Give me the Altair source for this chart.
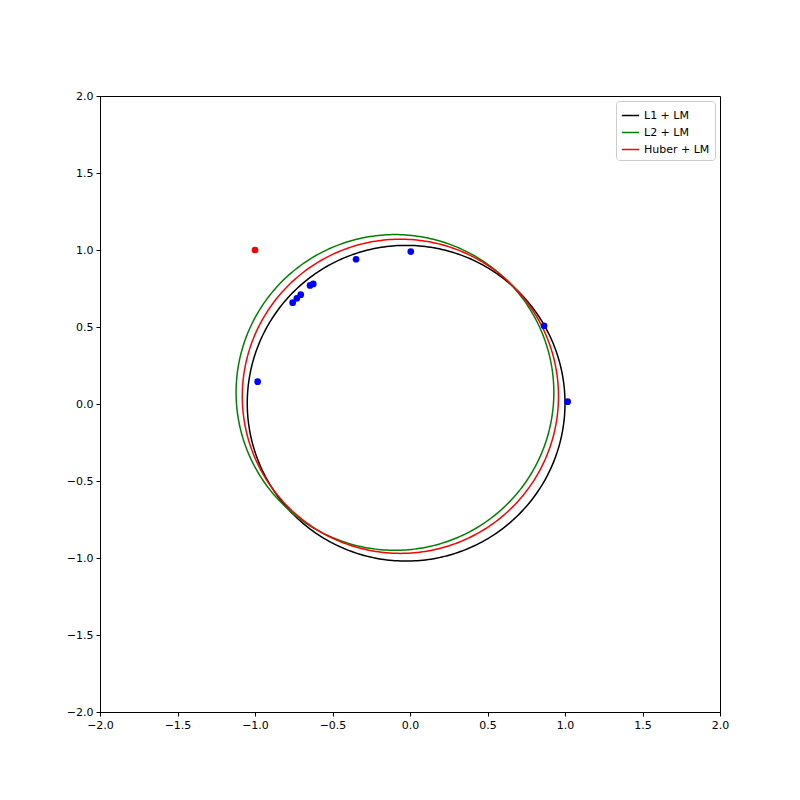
import altair as alt
import numpy as np
import pandas as pd

# Data points (blue = inliers, red = outlier)
inlier_x = [0.005, -0.348, -0.624, -0.645, -0.705, -0.73, -0.757, -0.983, 0.865, 1.017]
inlier_y = [0.99, 0.94, 0.78, 0.77, 0.71, 0.686, 0.658, 0.145, 0.508, 0.015]
outlier_x = [-1.0]
outlier_y = [1.0]

# Fitted circles: name, center x, center y, radius
fit_names = ["L1 + LM", "L2 + LM", "Huber + LM"]
fit_cx = [-0.025, -0.097, -0.062]
fit_cy = [0.005, 0.075, 0.05]
fit_r = [1.025, 1.025, 1.02]
fit_colors = ["#000000", "#008000", "#ff0000"]

theta = np.linspace(0, 2 * np.pi, 361)
rows = []
for name, cx, cy, r in zip(fit_names, fit_cx, fit_cy, fit_r):
    for i, t in enumerate(theta):
        rows.append({"fit": name, "i": i, "x": cx + r * np.cos(t), "y": cy + r * np.sin(t)})
circles = pd.DataFrame(rows)

pts = pd.DataFrame({"x": inlier_x, "y": inlier_y, "c": ["blue"] * len(inlier_x)})
out = pd.DataFrame({"x": outlier_x, "y": outlier_y, "c": ["red"] * len(outlier_x)})

ticks = [-2.0, -1.5, -1.0, -0.5, 0.0, 0.5, 1.0, 1.5, 2.0]
xs = alt.Scale(domain=[-2, 2], nice=False, zero=False)
ys = alt.Scale(domain=[-2, 2], nice=False, zero=False)
xax = alt.Axis(values=ticks, format=".1f", title=None, grid=False, labelFlush=False)
yax = alt.Axis(values=ticks, format=".1f", title=None, grid=False, labelFlush=False)

lines = alt.Chart(circles).mark_line(strokeWidth=1.5, clip=True).encode(
    x=alt.X("x:Q", scale=xs, axis=xax),
    y=alt.Y("y:Q", scale=ys, axis=yax),
    color=alt.Color("fit:N", scale=alt.Scale(domain=fit_names, range=fit_colors),
                    sort=fit_names,
                    legend=alt.Legend(title=None, orient="top-right", symbolType="stroke",
                                      symbolStrokeWidth=1.5, symbolSize=300, labelFontSize=11,
                                      strokeColor="#cccccc", padding=5, cornerRadius=3,
                                      offset=5, rowPadding=2)),
    detail="fit:N",
    order="i:Q",
)

blue = alt.Chart(pts).mark_circle(size=45, opacity=1, color="blue").encode(
    x=alt.X("x:Q", scale=xs), y=alt.Y("y:Q", scale=ys)
)
red = alt.Chart(out).mark_circle(size=45, opacity=1, color="red").encode(
    x=alt.X("x:Q", scale=xs), y=alt.Y("y:Q", scale=ys)
)

chart = alt.layer(lines, blue, red).properties(
    width=620, height=616,
    padding={"left": 92, "top": 88, "right": 60, "bottom": 70},
    autosize="none",
).configure_view(stroke="black", strokeWidth=1).configure_axis(
    labelFont="DejaVu Sans", labelFontSize=11, labelColor="black",
    domainColor="black", tickColor="black", tickSize=4, labelPadding=3,
).configure_legend(labelFont="DejaVu Sans", labelColor="black")

chart.save("out.html", embed_options={"renderer": "svg", "actions": False})
